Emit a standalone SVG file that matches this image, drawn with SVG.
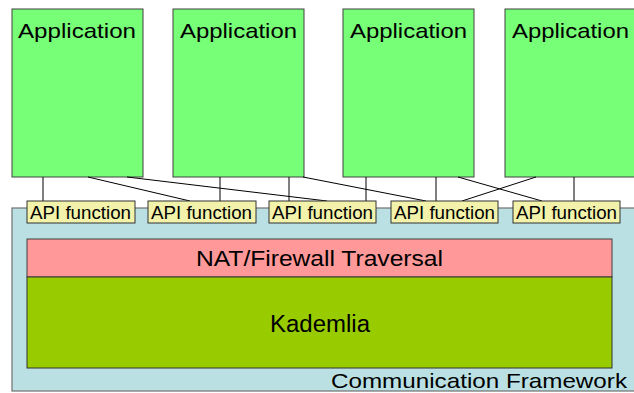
<svg xmlns="http://www.w3.org/2000/svg" width="634" height="393" viewBox="0 0 634 393">
<style>
text{font-family:"Liberation Sans",Arial,sans-serif;fill:#000}
.app{fill:#77FF77;stroke:#404040;stroke-width:1}
.api{fill:#F2F2AA;stroke:#333333;stroke-width:1}
.app-t{font-size:21px}
.api-t{font-size:18px}
.conn line{stroke:#000;stroke-width:1}
</style>
<rect width="634" height="393" fill="#ffffff"/>
<g id="framework">
<rect x="12" y="208" width="640" height="183" fill="#BBE0E3" stroke="#707070" stroke-width="1.2"/>
<text x="331" y="387.5" font-size="21" textLength="296" lengthAdjust="spacingAndGlyphs">Communication Framework</text>
</g>
<g id="nat">
<rect x="27" y="239" width="585" height="38" fill="#FF9999" stroke="#404040" stroke-width="1"/>
<text x="196" y="266" font-size="22.5" textLength="247" lengthAdjust="spacingAndGlyphs">NAT/Firewall Traversal</text>
</g>
<g id="kademlia">
<rect x="27" y="277" width="585" height="91" fill="#99CC00" stroke="#333333" stroke-width="1"/>
<text x="270" y="331.5" font-size="23.5" textLength="100" lengthAdjust="spacingAndGlyphs">Kademlia</text>
</g>
<g id="app1"><rect class="app" x="12" y="9" width="131" height="168"/><text class="app-t" x="18" y="37.5" textLength="118" lengthAdjust="spacingAndGlyphs">Application</text></g>
<g id="app2"><rect class="app" x="173" y="9" width="131" height="168"/><text class="app-t" x="180" y="37.5" textLength="117" lengthAdjust="spacingAndGlyphs">Application</text></g>
<g id="app3"><rect class="app" x="343" y="9" width="131" height="168"/><text class="app-t" x="350" y="37.5" textLength="117" lengthAdjust="spacingAndGlyphs">Application</text></g>
<g id="app4"><rect class="app" x="505" y="9" width="135" height="168"/><text class="app-t" x="512" y="37.5" textLength="117" lengthAdjust="spacingAndGlyphs">Application</text></g>
<g id="connectors" class="conn">
<line x1="43" y1="177" x2="43" y2="201"/>
<line x1="88" y1="177" x2="190" y2="201"/>
<line x1="127" y1="177" x2="327" y2="201"/>
<line x1="220" y1="177" x2="220" y2="201"/>
<line x1="289" y1="177" x2="289" y2="201"/>
<line x1="303" y1="177" x2="426" y2="201"/>
<line x1="366" y1="177" x2="366" y2="201"/>
<line x1="436" y1="177" x2="436" y2="201"/>
<line x1="458" y1="177" x2="542" y2="201"/>
<line x1="536" y1="177" x2="462" y2="201"/>
<line x1="574" y1="177" x2="574" y2="201"/>
</g>
<g id="api1"><rect class="api" x="27" y="201" width="108" height="22"/><text class="api-t" x="30" y="218.5" textLength="101" lengthAdjust="spacingAndGlyphs">API function</text></g>
<g id="api2"><rect class="api" x="148" y="201" width="108" height="22"/><text class="api-t" x="151" y="218.5" textLength="101" lengthAdjust="spacingAndGlyphs">API function</text></g>
<g id="api3"><rect class="api" x="269" y="201" width="107" height="22"/><text class="api-t" x="272" y="218.5" textLength="101" lengthAdjust="spacingAndGlyphs">API function</text></g>
<g id="api4"><rect class="api" x="391" y="201" width="107" height="22"/><text class="api-t" x="394" y="218.5" textLength="101" lengthAdjust="spacingAndGlyphs">API function</text></g>
<g id="api5"><rect class="api" x="513" y="201" width="107" height="22"/><text class="api-t" x="516" y="218.5" textLength="101" lengthAdjust="spacingAndGlyphs">API function</text></g>
</svg>
